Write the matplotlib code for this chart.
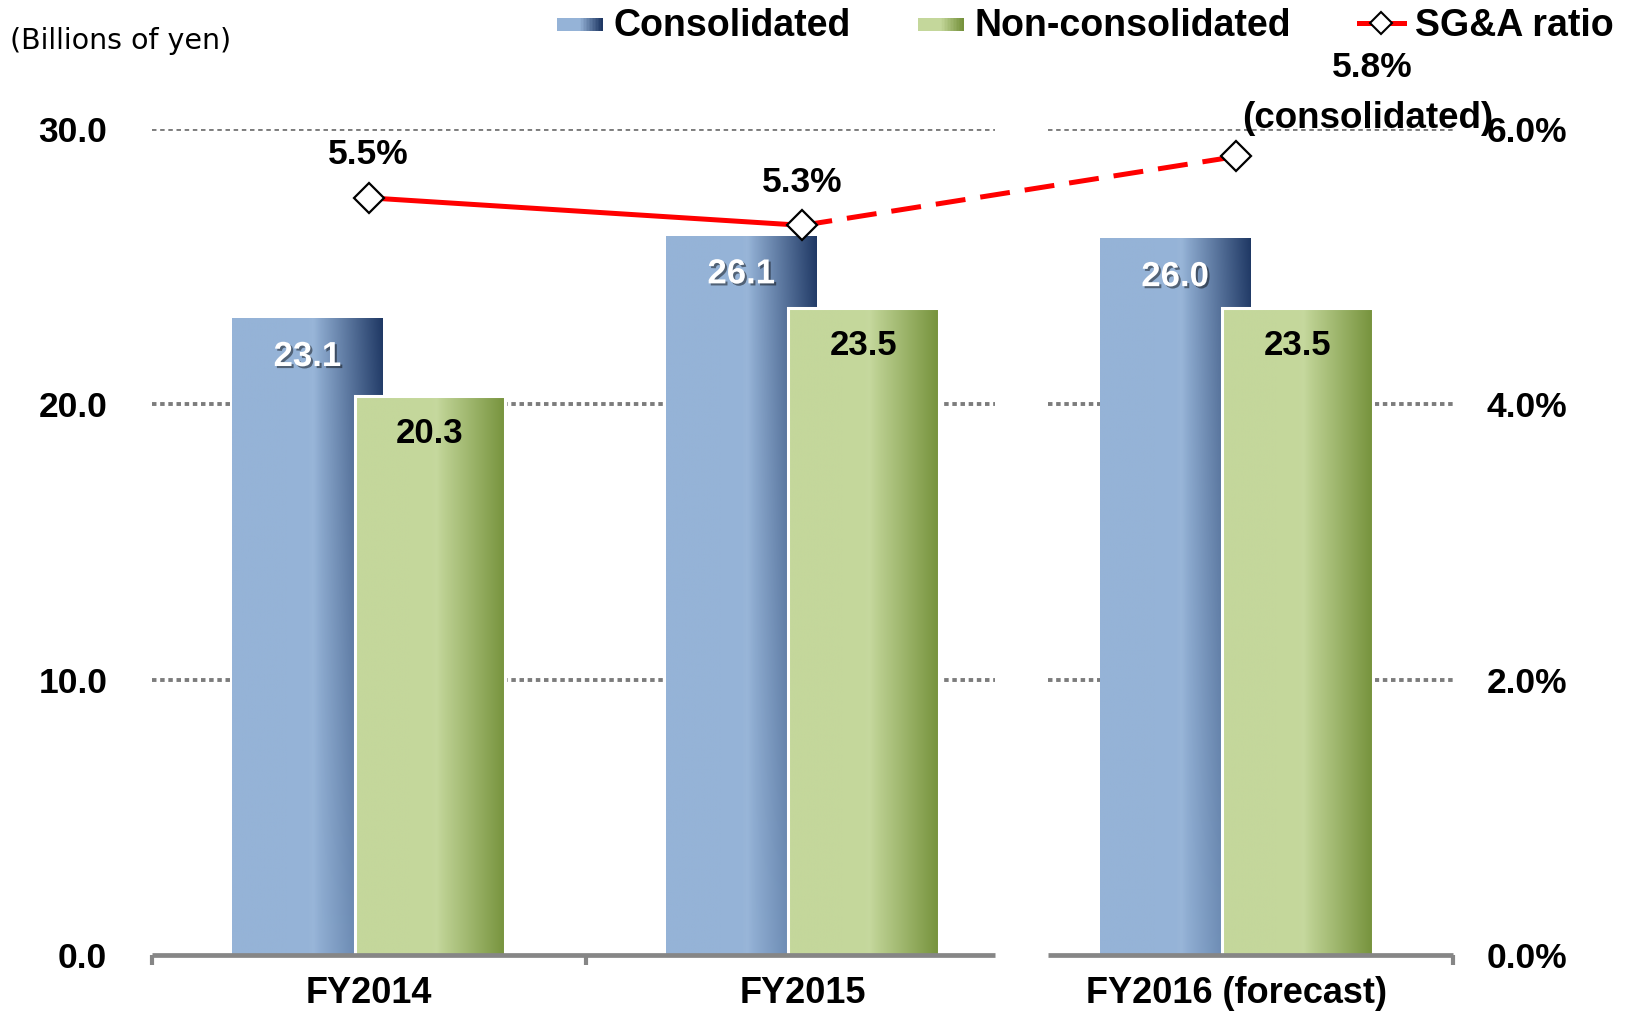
import matplotlib
matplotlib.use('Agg')
import matplotlib.pyplot as plt
import matplotlib.patheffects as pe
import numpy as np
from matplotlib.colors import to_rgb
from matplotlib.legend_handler import HandlerBase
from matplotlib.lines import Line2D
from matplotlib.patches import Rectangle

categories = ['FY2014', 'FY2015', 'FY2016 (forecast)']
consolidated = [23.1, 26.1, 26.0]
non_consolidated = [20.3, 23.5, 23.5]
sga_ratio = [5.5, 5.3, 5.8]
left_ticks = [0, 10, 20, 30]
right_ticks = [0, 2, 4, 6]

BLUE_L, BLUE_TOP, BLUE_BOT = '#95B3D7', '#1F3864', '#52719C'
GREEN_L, GREEN_R = '#C4D79B', '#76923C'
GRAY = '#868686'

plt.rcParams['font.family'] = ['Liberation Sans', 'DejaVu Sans']
plt.rcParams['font.weight'] = 'bold'


def gradient(c_left, c_top, c_bot, nx=200, ny=60):
    # flat light part, a faint highlight, then a ramp to the dark right edge
    t = np.linspace(0, 1, nx)
    w = np.clip((t - 0.54) / 0.46, 0, 1)
    hl = np.exp(-((t - 0.54) / 0.03) ** 2) * 0.03
    s = np.linspace(0, 1, ny)[:, None, None]
    right = (1 - s) * np.array(to_rgb(c_top)) + s * np.array(to_rgb(c_bot))
    left = np.array(to_rgb(c_left))[None, None, :]
    img = (1 - w[None, :, None]) * left + w[None, :, None] * right
    img = img + hl[None, :, None] * (1 - img)
    return np.clip(img, 0, 1)


class GradHandler(HandlerBase):
    def __init__(self, c0, c1):
        super().__init__()
        self.c0 = np.array(to_rgb(c0))
        self.c1 = np.array(to_rgb(c1))

    def create_artists(self, legend, orig_handle, xdescent, ydescent,
                       width, height, fontsize, trans):
        n = 30
        arts = []
        for i in range(n):
            f = np.clip((i / (n - 1) - 0.5) / 0.5, 0, 1)
            col = (1 - f) * self.c0 + f * self.c1
            r = Rectangle((-xdescent + width * i / n, -ydescent + height * 0.2),
                          width / n * 1.1, height * 0.5, fc=col, ec='none',
                          transform=trans)
            arts.append(r)
        return arts


fig = plt.figure(figsize=(16.3, 10.13), dpi=100)
ax = fig.add_axes([0.0931, 0.057, 0.7984, 0.8157])

x = np.arange(len(categories))
bw = 0.347
off = 0.141

for xi, v in zip(x - off, consolidated):
    ax.imshow(gradient(BLUE_L, BLUE_TOP, BLUE_BOT), extent=[xi - bw / 2, xi + bw / 2, 0, v],
              aspect='auto', interpolation='bilinear', zorder=2)
    ax.annotate(f'{v:.1f}', (xi, v), xytext=(0, -27), textcoords='offset points',
                ha='center', va='center', color='white', fontsize=25, zorder=6,
                path_effects=[pe.withSimplePatchShadow(offset=(1.5, -1.5),
                                                       shadow_rgbFace='black', alpha=0.45)])

for xi, v in zip(x + off, non_consolidated):
    ax.imshow(gradient(GREEN_L, GREEN_R, GREEN_R), extent=[xi - bw / 2, xi + bw / 2, 0, v],
              aspect='auto', interpolation='bilinear', zorder=3)
    ax.add_patch(Rectangle((xi - bw / 2, 0), bw, v, fill=False, ec='white', lw=2.2, zorder=3.5))
    ax.annotate(f'{v:.1f}', (xi, v), xytext=(0, -27), textcoords='offset points',
                ha='center', va='center', color='black', fontsize=25, zorder=6)

# dotted grid and x axis line, broken before the forecast year
segments = [(-0.5, 1.445), (1.565, 2.5)]
for a, b in segments:
    ax.hlines(left_ticks[1:], a, b, colors='#7c7c7c', lw=2.8,
              linestyles=(0, (1.15, 0.95)), zorder=1)
    ax.hlines(0, a, b, colors=GRAY, lw=3.4, zorder=4, clip_on=False)

ax.set_xlim(-0.5, 2.5)
ax.set_ylim(0, 30)
ax.set_xticks(x)
ax.set_xticklabels(categories)
ax.set_xticks([-0.5, 0.5, 2.5], minor=True)
ax.tick_params(axis='x', which='major', length=0, pad=15, labelsize=26)
ax.tick_params(axis='x', which='minor', length=7, width=3, color=GRAY, direction='out')
ax.set_yticks(left_ticks)
ax.set_yticklabels([f'{t:.1f}' for t in left_ticks])
ax.tick_params(axis='y', length=0, pad=32, labelsize=25.5)
for sp in ax.spines.values():
    sp.set_visible(False)

ax2 = ax.twinx()
ax2.set_ylim(0, 6)
ax2.set_yticks(right_ticks)
ax2.set_yticklabels([f'{t:.1f}%' for t in right_ticks])
ax2.tick_params(axis='y', length=0, pad=24, labelsize=25.5)
for sp in ax2.spines.values():
    sp.set_visible(False)

ax2.plot(x[:2], sga_ratio[:2], color='red', lw=3.6, solid_capstyle='butt', zorder=3)
ax2.plot(x[1:], sga_ratio[1:], color='red', lw=3.6, dashes=(6, 3), zorder=3)
ax2.plot(x, sga_ratio, ls='none', marker='D', ms=15, mfc='white', mec='black', mew=1.6, zorder=4)

for xi, v in zip(x[:2], sga_ratio[:2]):
    ax2.annotate(f'{v:.1f}%', (xi, v), xytext=(0, 31), textcoords='offset points',
                 ha='center', va='center', fontsize=25.5)
ax2.annotate(f'{sga_ratio[2]:.1f}%', (x[2], sga_ratio[2]), xytext=(98, 64),
             textcoords='offset points', ha='center', va='center', fontsize=25.5)
ax2.annotate('(consolidated)', (x[2], sga_ratio[2]), xytext=(95, 27),
             textcoords='offset points', ha='center', va='center', fontsize=26.5)

h_blue = Rectangle((0, 0), 1, 1)
h_green = Rectangle((0, 0), 1, 1)
h_line = Line2D([], [], color='red', lw=3.6, marker='D', ms=11, mfc='white', mec='black', mew=1.5)
fig.legend([h_blue, h_green, h_line], ['Consolidated', 'Non-consolidated', 'SG&A ratio'],
           loc='center right', bbox_to_anchor=(0.99, 0.974), ncol=3, frameon=False,
           fontsize=27, handlelength=1.2, handletextpad=0.3, columnspacing=1.8,
           borderpad=0, borderaxespad=0,
           handler_map={h_blue: GradHandler(BLUE_L, BLUE_TOP),
                        h_green: GradHandler(GREEN_L, GREEN_R)})

fig.text(10 / 1630, 1 - 41 / 1013, '(Billions of yen)', family='DejaVu Sans',
         weight='normal', fontsize=20.5, va='center', ha='left')

fig.savefig('out.png', dpi=100)
